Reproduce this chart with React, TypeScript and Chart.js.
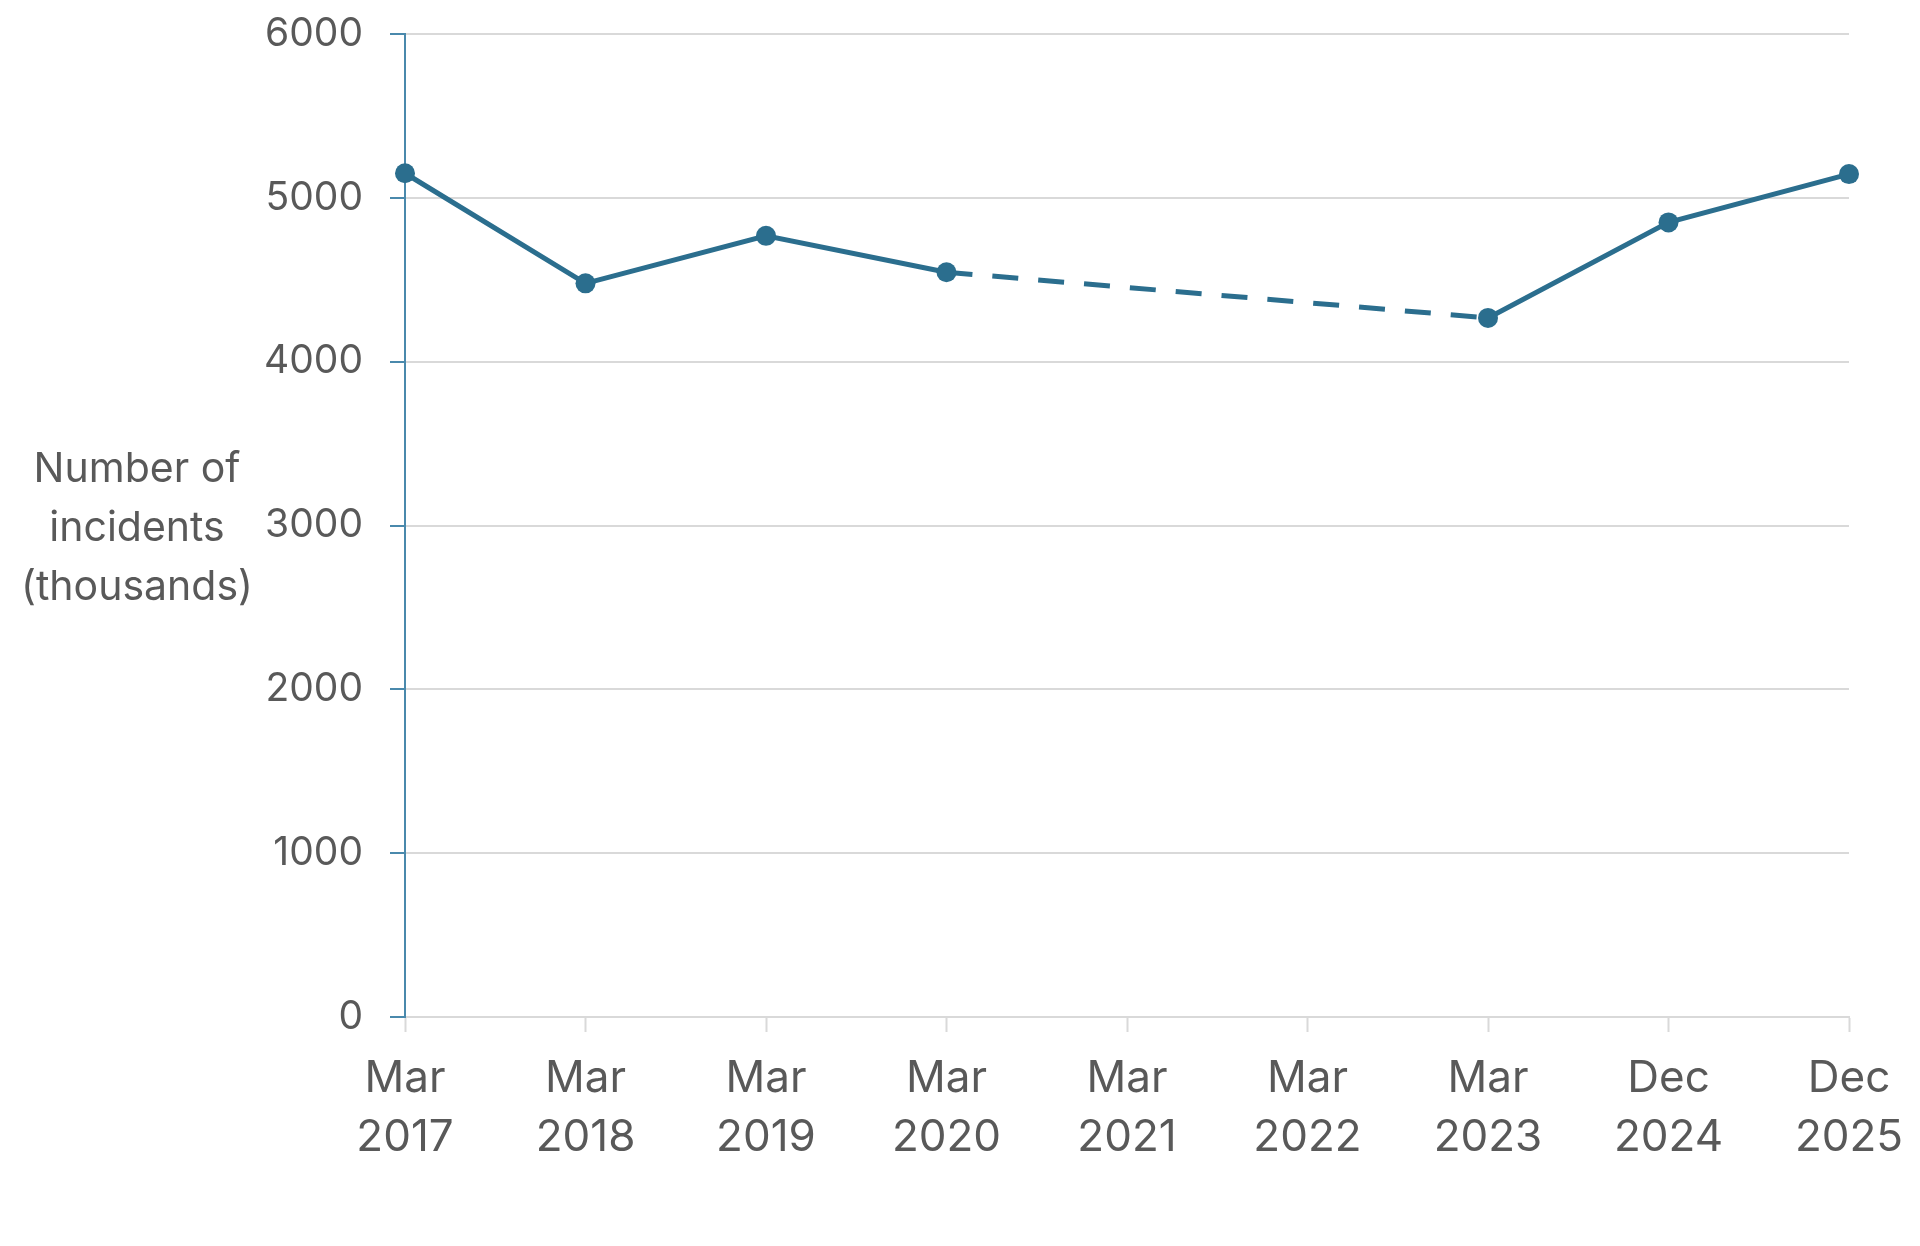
import { useEffect, useRef } from 'react';
import { Chart, registerables } from 'chart.js';

Chart.register(...registerables);

// periods on the x axis (two-line labels)
const periods: string[][] = [
	['Mar', '2017'],
	['Mar', '2018'],
	['Mar', '2019'],
	['Mar', '2020'],
	['Mar', '2021'],
	['Mar', '2022'],
	['Mar', '2023'],
	['Dec', '2024'],
	['Dec', '2025']
];

// incidents in thousands, no survey for Mar 2021 / Mar 2022
const incidents: (number | null)[] = [5150, 4478, 4768, 4546, null, null, 4267, 4850, 5145];

const yTicks: number[] = [0, 1000, 2000, 3000, 4000, 5000, 6000];
const yTitle: string[] = ['Number of', 'incidents', '(thousands)'];

const lineColor = '#2B6E8E';
const axisBlue = '#4A89AC';
const gridGrey = '#D9D9D9';
const textGrey = '#595959';
const fontFamily = 'Inter, "Open Sans", sans-serif';

const titlePlugin = {
	id: 'flatTitle',
	afterDraw(chart: any) {
		const {ctx, chartArea} = chart;
		const mid = (chartArea.top + chartArea.bottom) / 2 + 3;
		ctx.save();
		ctx.font = `41px ${fontFamily}`;
		ctx.fillStyle = textGrey;
		ctx.textAlign = 'center';
		ctx.textBaseline = 'middle';
		yTitle.forEach((line, i) => {
			ctx.fillText(line, 137, mid + (i - 1) * 59);
		});
		ctx.restore();
	}
};

export default function App() {
	const chartRef: any = useRef(null);

	useEffect(() => {
		if (!chartRef.current) return;
		const chart = new Chart(chartRef.current.getContext('2d'), {
			type: 'line',
			data: {
				labels: periods,
				datasets: [
					{
						data: incidents,
						borderColor: lineColor,
						backgroundColor: lineColor,
						borderWidth: 5,
						pointRadius: 10,
						pointBorderWidth: 0,
						pointBackgroundColor: lineColor,
						spanGaps: true,
						clip: false,
						tension: 0,
						segment: {
							borderDash: (ctx: any) => (ctx.p0.skip || ctx.p1.skip ? [26, 20] : undefined)
						}
					} as any
				]
			},
			options: {
				animation: false,
				responsive: true,
				maintainAspectRatio: false,
				layout: {
					padding: {left: 0, right: 71, top: 34, bottom: 0}
				},
				plugins: {
					legend: {display: false},
					tooltip: {enabled: false}
				},
				scales: {
					x: {
						offset: false,
						afterFit: (scale: any) => {
							scale.height = 229;
							scale.paddingLeft = 0;
							scale.paddingRight = 0;
						},
						grid: {
							drawOnChartArea: false,
							drawTicks: true,
							tickLength: 15,
							tickColor: gridGrey,
							tickWidth: 2
						},
						border: {color: gridGrey, width: 2},
						ticks: {
							color: textGrey,
							padding: 17,
							maxRotation: 0,
							autoSkip: false,
							font: {family: fontFamily, size: 44, lineHeight: 1.34}
						}
					},
					y: {
						min: 0,
						max: 6000,
						afterFit: (scale: any) => {
							scale.width = 405;
							scale.paddingTop = 0;
							scale.paddingBottom = 0;
						},
						afterBuildTicks: (scale: any) => {
							scale.ticks = yTicks.map((v) => ({value: v}));
						},
						grid: {
							color: gridGrey,
							lineWidth: 2,
							tickLength: 15,
							tickColor: axisBlue,
							tickWidth: 2
						},
						border: {color: axisBlue, width: 2},
						ticks: {
							color: textGrey,
							padding: 27,
							font: {family: fontFamily, size: 39},
							callback: (value: any) => String(value)
						}
					}
				}
			},
			plugins: [titlePlugin]
		});
		return () => {
			chart.destroy();
		};
	}, []);

	return (
		<div style={{position: 'absolute', left: 0, top: 0, width: 1920, height: 1246, background: '#fff'}}>
			<canvas ref={chartRef} />
		</div>
	);
}
